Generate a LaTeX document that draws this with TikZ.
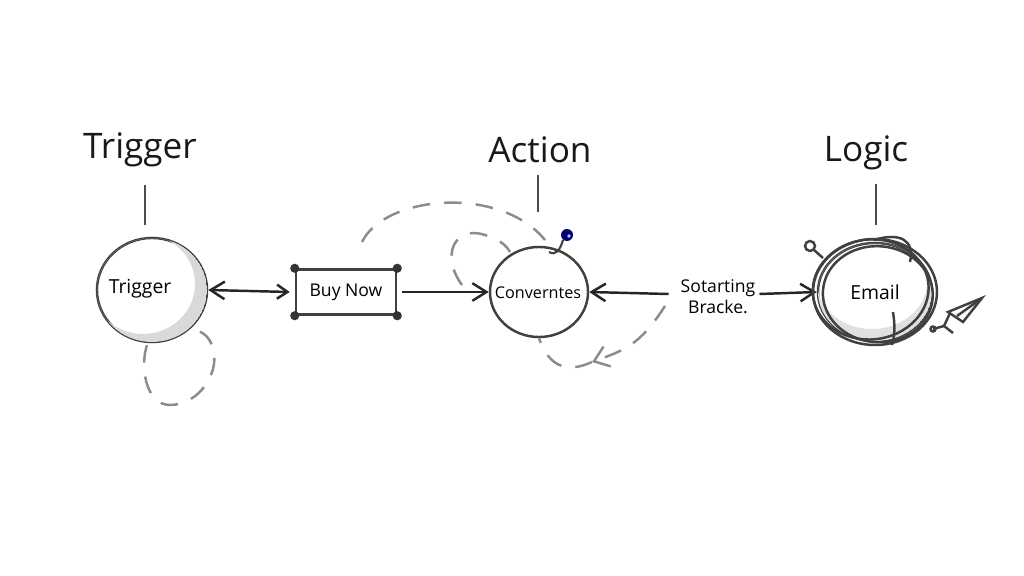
\documentclass[tikz,border=0pt]{standalone}
\usepackage{fontspec}
\setmainfont{Open Sans}
\usepackage{tikz}
\usetikzlibrary{
    arrows.meta,
    calc,
    positioning,
    shapes.geometric
}

\tikzset{
    ink/.style={draw=black!75, line width=0.7pt},
    heading/.style={font=\fontsize{10}{12}\selectfont, text=black!90},
    stem/.style={draw=black!70, line width=0.6pt},
    bubble/.style={ellipse, ink, inner sep=0pt, font=\fontsize{5.5}{7}\selectfont},
    flow/.style={draw=black!85, line width=0.7pt, -{Straight Barb[length=4pt,width=5pt]}},
    loopdash/.style={draw=black!45, line width=0.7pt, dash pattern=on 5pt off 4pt}
}

\begin{document}
\begin{tikzpicture}[x=0.01cm, y=-0.01cm]
\useasboundingbox[fill=white] (0,0) rectangle (1024,576);

% Column headings
\node[heading] (hTrig) at (140,150) {Trigger};
\node[heading] (hAct)  at (540,150) {Action};
\node[heading] (hLog)  at (866,153) {Logic};

% Main nodes
\node[bubble, minimum width=1.1cm, minimum height=1.04cm] (trig) at (152,290) {};
\node[font=\fontsize{5.5}{7}\selectfont, inner sep=0pt] (trigText) at (140,289) {Trigger};
\node[draw=black!75, line width=0.7pt, minimum width=1.0cm, minimum height=0.45cm,
      inner sep=0pt, font=\fontsize{5}{6}\selectfont] (buy) at (346,292) {Buy Now};
\node[bubble, minimum width=0.98cm, minimum height=0.9cm] (conv) at (539,292) {};
\node[font=\fontsize{4.6}{6}\selectfont, inner sep=0pt] (convText) at (538,293) {Converntes};
\node[align=center, inner sep=1pt, font=\fontsize{5}{6}\selectfont] (sort) at (718,297) {Sotarting\\Bracke.};
\node[bubble, minimum width=1.14cm, minimum height=0.98cm] (mail) at (875,292) {Email};

% Soft shading on the bubbles
\begin{scope}
    \clip (trig.center) ellipse (55 and 52);
    \fill[black!15, even odd rule] (trig.center) ellipse (55 and 52)
        ($(trig.center)+(-9,-6)$) ellipse (52 and 50);
\end{scope}
\begin{scope}
    \clip (mail.center) ellipse (57 and 49);
    \fill[black!12, even odd rule] (mail.center) ellipse (57 and 49)
        ($(mail.center)+(-3,-10)$) ellipse (55 and 47);
\end{scope}

% Stems under the headings
\draw[stem] (145,185) -- (145,225);
\draw[stem] (538,175) -- (538,212);
\draw[stem] (876,184) -- (876,225);

% Buy Now corner dots
\foreach \c in {north west, north east, south west, south east} {
    \fill[black!80] (buy.\c) circle (1.3pt);
}

% Flow arrows
\draw[flow, {Straight Barb[length=4pt,width=5pt]}-{Straight Barb[length=3pt,width=4pt]}]
    (trig.east) -- ($(buy.west)+(-5,0)$);
\draw[flow] ($(buy.east)+(5,0)$) -- (conv.west);
\draw[flow] ($(sort.west)+(-8,-3)$) -- (conv.east);
\draw[flow] ($(sort.east)+(0,-3)$) -- (mail.west);

% Dashed loops
\draw[loopdash] ($(trig.south)+(-5,2)$) .. controls (140,365) and (145,405) .. (170,405)
    .. controls (200,405) and (222,370) .. (212,345)
    .. controls (207,333) and (198,330) .. (192,330);
\draw[loopdash] (362,242) .. controls (385,195) and (500,185) .. (545,240);
\draw[loopdash] (462,285) .. controls (440,255) and (455,225) .. (485,235)
    .. controls (500,240) and (506,245) .. (510,252);
\draw[loopdash, -{Straight Barb[length=4pt,width=6pt]}] (665,306)
    .. controls (640,345) and (625,350) .. (592,362);
\draw[loopdash] (592,362) .. controls (570,372) and (550,370) .. (conv.south);

% Blue pin on the action bubble
\draw[black!75, line width=0.6pt] (563,240) .. controls (560,250) and (556,256) .. (549,252);
\fill[blue!45!black] (567,235) circle (6);
\fill[blue!25!white] (569,236) circle (1.8);

% Scribbled email bubble
\draw[ink] (mail.center) ellipse (62 and 53);
\draw[ink, rotate around={6:(mail.center)}] ($(mail.center)+(-4,-3)$) ellipse (58 and 50);
\draw[ink, rotate around={-4:(mail.center)}] ($(mail.center)+(3,2)$) ellipse (55 and 48);
\draw[ink] (874,240) .. controls (900,232) and (915,240) .. (910,262);
\draw[ink] (893,312) .. controls (895,325) and (895,335) .. (892,345);

% Small doodles near Logic
\draw[ink] (810,246) circle (5);
\draw[ink] (814,250) -- (823,258);
\draw[ink] (982,298) -- (948,312) -- (963,322) -- cycle;
\draw[ink] (982,298) -- (957,316);
\draw[ink] (950,313) -- (944,326) -- (953,333);
\draw[ink] (944,326) -- (933,329);
\draw[ink] (933,329) circle (2.5);
\end{tikzpicture}
\end{document}
